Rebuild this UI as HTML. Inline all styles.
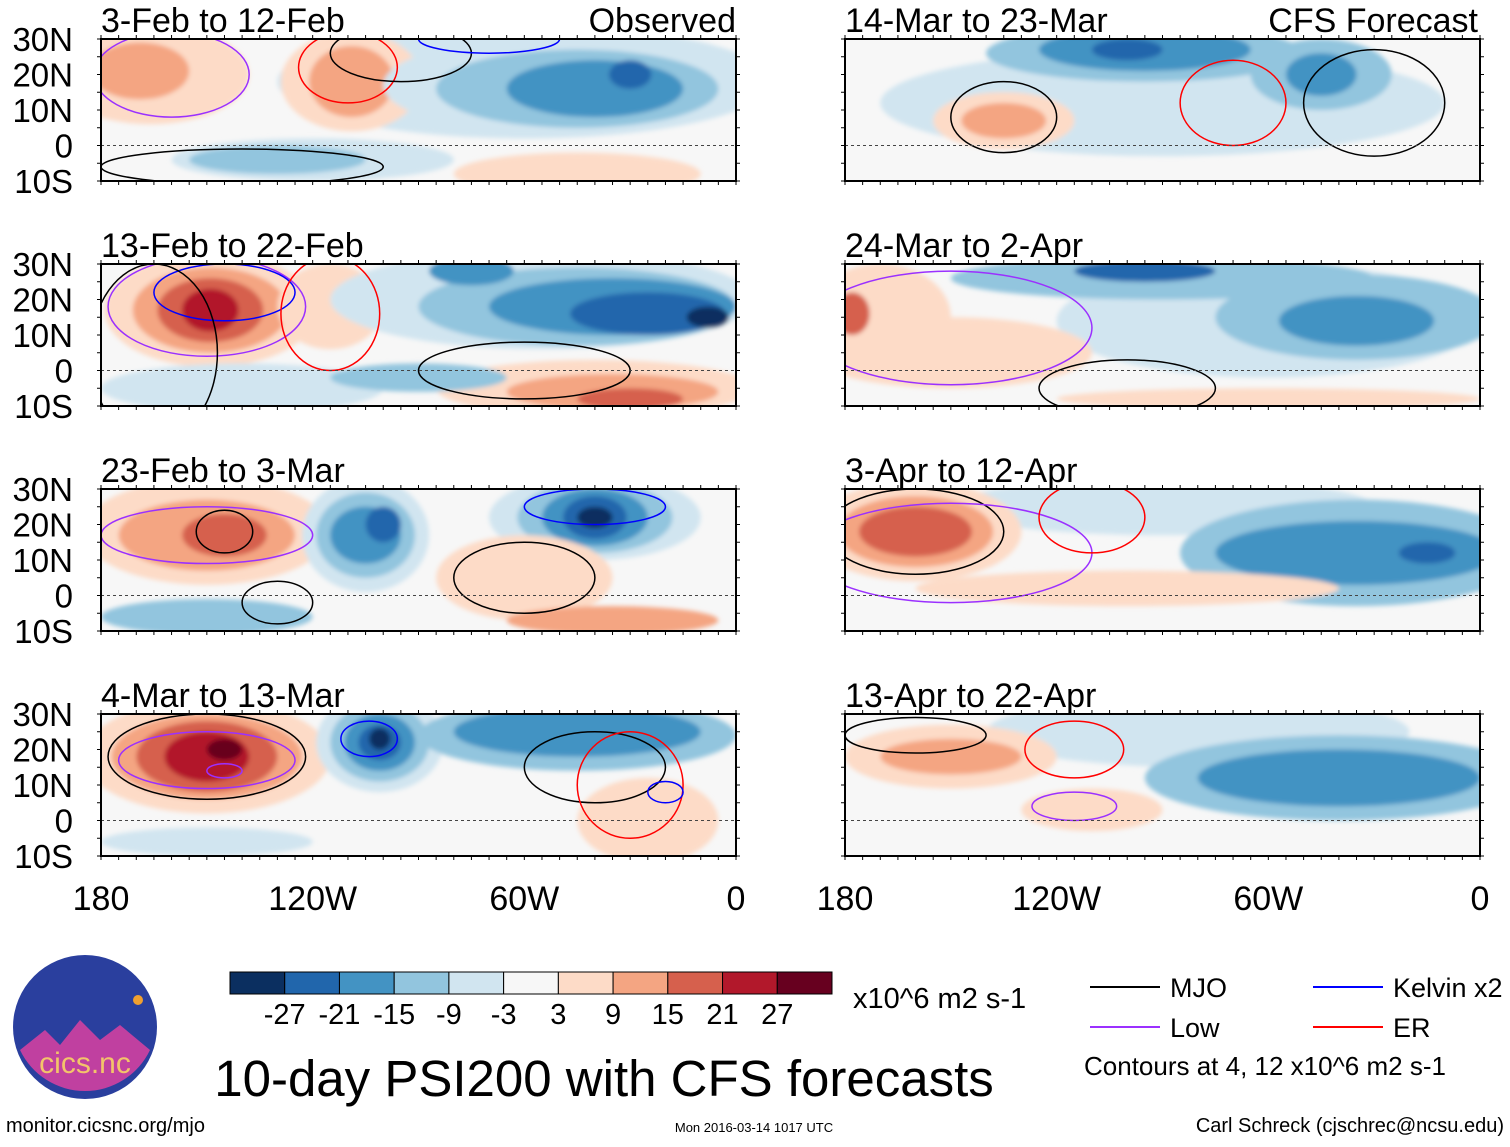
<!DOCTYPE html>
<html><head><meta charset="utf-8">
<style>
html,body{margin:0;padding:0;background:#fff;}
body{width:1510px;height:1142px;overflow:hidden;font-family:"Liberation Sans",sans-serif;}
svg text{font-family:"Liberation Sans",sans-serif;}
</style></head>
<body>
<svg id="fig" width="1510" height="1142" viewBox="0 0 1510 1142" xmlns="http://www.w3.org/2000/svg">
<defs><filter id="soft"><feGaussianBlur stdDeviation="2.5"/></filter></defs>
</svg>
<script>
const levelColors = ["#0b2f60","#2166ac","#4393c3","#92c5de","#d1e5f0","#f7f7f7","#fddbc7","#f4a582","#d6604d","#b2182b","#67001f"];
const levelLabels = ["-27","-21","-15","-9","-3","3","9","15","21","27"];
const latTicks = ["30N","20N","10N","0","10S"];
const latTickVals = [30,20,10,0,-10];
const lonTicks = ["180","120W","60W","0"];
const lonTickVals = [180,120,60,0];
const panelTitles = ["3-Feb to 12-Feb","13-Feb to 22-Feb","23-Feb to 3-Mar","4-Mar to 13-Mar","14-Mar to 23-Mar","24-Mar to 2-Apr","3-Apr to 12-Apr","13-Apr to 22-Apr"];
// anomaly blobs: [lonW, lat, rx(deg), ry(deg), level index]
const blobs0 = [[60,18,70,16,4],[166,20,28,14,6],[169,21,14,8,7],[109,18,20,14,6],[109,18,12,10,7],[50,17,50,14,4],[45,16,40,11,3],[40,16,25,8,2],[30,20,6,4,1],[120,-4,40,6,4],[130,-4,25,4,3],[45,-8,35,6,6]];
const blobs1 = [[149,17,30,16,6],[149,17,22,12,7],[149,17,15,9,8],[149,17,8,6,9],[115,18,15,12,6],[55,20,60,14,4],[45,18,45,11,3],[35,18,35,8,2],[25,16,22,6,1],[8,15,6,3,0],[75,28,12,4,2],[40,-5,45,8,6],[35,-6,30,5,7],[30,-8,15,3,8],[140,-5,40,7,4],[90,-2,25,4,3]];
const blobs2 = [[150,18,35,15,6],[150,17,25,10,7],[145,17,12,6,8],[105,17,18,16,4],[105,17,14,12,3],[105,17,10,8,2],[100,20,5,5,1],[40,22,30,12,4],[40,22,22,10,3],[40,22,15,8,2],[40,22,9,6,1],[40,22,5,3,0],[60,5,25,12,6],[150,-6,30,5,3],[35,-7,30,4,7]];
const blobs3 = [[150,18,35,16,6],[150,18,27,12,7],[150,18,20,10,8],[150,18,12,7,9],[145,20,5,3,10],[101,22,18,14,4],[101,22,14,11,3],[101,22,10,8,2],[101,22,6,5,1],[101,23,3,3,0],[45,24,45,10,3],[45,25,35,7,2],[25,0,20,12,6],[150,-6,30,4,4]];
const blobs4 = [[90,12,80,15,4],[95,26,45,8,3],[95,27,30,6,2],[100,27,10,3,1],[45,20,20,10,3],[45,20,10,6,2],[135,7,20,8,6],[135,7,12,5,7]];
const blobs5 = [[60,14,60,16,4],[90,26,60,6,3],[95,28,20,3,1],[35,15,40,12,3],[35,14,22,7,2],[150,5,40,10,6],[170,15,20,15,6],[178,16,5,6,8],[60,-8,60,3,6]];
const blobs6 = [[90,25,60,8,4],[35,12,50,15,3],[35,12,40,9,2],[15,12,8,3,1],[100,2,60,5,6],[160,18,30,14,6],[160,18,22,10,7],[160,18,16,7,8]];
const blobs7 = [[80,25,60,10,4],[40,12,55,12,3],[40,12,40,8,2],[110,3,20,6,6],[150,18,30,9,6],[150,18,20,5,7]];
const panelBlobs = [blobs0,blobs1,blobs2,blobs3,blobs4,blobs5,blobs6,blobs7];
// contours: [lonW, lat, rx, ry, type] type: 0 MJO,1 Low,2 Kelvin,3 ER
const cont0 = [[160,20,22,12,1],[110,22,14,10,3],[95,26,20,8,0],[140,-6,40,5,0],[70,30,20,4,2]];
const cont1 = [[150,18,28,14,1],[145,22,20,8,2],[115,16,14,16,3],[165,5,18,25,0],[60,0,30,8,0]];
const cont2 = [[150,17,30,8,1],[145,18,8,6,0],[130,-2,10,6,0],[60,5,20,10,0],[40,25,20,5,2]];
const cont3 = [[150,18,28,12,0],[150,17,25,8,1],[145,14,5,2,1],[104,23,8,5,2],[40,15,20,10,0],[30,10,15,15,3],[20,8,5,3,2]];
const cont4 = [[135,8,15,10,0],[70,12,15,12,3],[30,12,20,15,0]];
const cont5 = [[150,12,40,16,1],[100,-5,25,8,0]];
const cont6 = [[160,18,25,12,0],[150,12,40,14,1],[110,22,15,10,3]];
const cont7 = [[160,24,20,5,0],[115,20,14,8,3],[115,4,12,4,1]];
const panelConts = [cont0,cont1,cont2,cont3,cont4,cont5,cont6,cont7];

const NS="http://www.w3.org/2000/svg";
const svg=document.getElementById('fig');
const colX=[101,845], W=635, rowY=[39,264,489,714], H=142;
const contColors=["#000","#9b30ff","#0000ff","#ff0000"];
function mk(tag,attrs,parent){const e=document.createElementNS(NS,tag);for(const k in attrs)e.setAttribute(k,attrs[k]);(parent||svg).appendChild(e);return e;}
function xScale(px,lonW){return px+(180-lonW)/180*W;}
function yScale(py,lat){return py+(30-lat)/40*H;}

for(let p=0;p<8;p++){
  const col=p<4?0:1,row=p%4,px=colX[col],py=rowY[row];
  const g=mk('g',{});
  
  
  const cid='clip'+p;
  const cp=mk('clipPath',{id:cid},svg.querySelector('defs'));
  mk('rect',{x:px,y:py,width:W,height:H},cp);
  mk('rect',{x:px,y:py,width:W,height:H,fill:'#f7f7f7'},g);
  const fg=mk('g',{'clip-path':'url(#'+cid+')'},g);
  const bg=mk('g',{filter:'url(#soft)'},fg);
  panelBlobs[p].forEach(b=>{
    const e=mk('ellipse',{cx:xScale(px,b[0]),cy:yScale(py,b[1]),rx:b[2]/180*W,ry:b[3]/40*H,fill:levelColors[b[4]]},bg);
    
    
  });
  panelConts[p].forEach(c=>{
    const e=mk('ellipse',{cx:xScale(px,c[0]),cy:yScale(py,c[1]),rx:c[2]/180*W,ry:c[3]/40*H,fill:'none',stroke:contColors[c[4]],'stroke-width':1.5},fg);
    
    
  });
  const eq=mk('line',{x1:px,x2:px+W,y1:yScale(py,0),y2:yScale(py,0),stroke:'#444','stroke-width':1,'stroke-dasharray':'3,3'},g);
  
  
  mk('rect',{x:px,y:py,width:W,height:H,fill:'none',stroke:'#000','stroke-width':2},g);
  for(let i=0;i<=36;i++){const x=px+i*W/36;mk('line',{x1:x,x2:x,y1:py,y2:py-4,stroke:'#000'},g);mk('line',{x1:x,x2:x,y1:py+H,y2:py+H+4,stroke:'#000'},g);}
  for(let i=0;i<=8;i++){const y=py+i*H/8;mk('line',{x1:px,x2:px-4,y1:y,y2:y,stroke:'#000'},g);mk('line',{x1:px+W,x2:px+W+4,y1:y,y2:y,stroke:'#000'},g);}
  const t=mk('text',{x:px,y:py-7,'font-size':34},g);t.textContent=panelTitles[p];
  
  
  if(col===0){latTicks.forEach((l,i)=>{const tt=mk('text',{x:73,y:yScale(py,latTickVals[i])+12,'font-size':33,'text-anchor':'end'},g);tt.textContent=l;
    
    });}
}
const o=mk('text',{x:736,y:32,'font-size':34,'text-anchor':'end'});o.textContent='Observed';


const f=mk('text',{x:1478,y:32,'font-size':34,'text-anchor':'end'});f.textContent='CFS Forecast';


colX.forEach(px=>{lonTicks.forEach((l,i)=>{const tt=mk('text',{x:xScale(px,lonTickVals[i]),y:910,'font-size':34,'text-anchor':'middle'});tt.textContent=l;
  
  });});
const cbx=230,cbw=602/11;
levelColors.forEach((c,i)=>{const r=mk('rect',{x:cbx+i*cbw,y:972,width:cbw,height:22,fill:c,stroke:'#000','stroke-width':1});
  
  });
levelLabels.forEach((l,i)=>{const tt=mk('text',{x:cbx+(i+1)*cbw,y:1024,'font-size':29,'text-anchor':'middle'});tt.textContent=l;
  
  });
function txt(x,y,s,str,name,anchor){const t=mk('text',{x:x,y:y,'font-size':s,'text-anchor':anchor||'start'});t.textContent=str;return t;}
txt(853,1008,29,'x10^6 m2 s-1','colorbar-units');
txt(604,1096,51,'10-day PSI200 with CFS forecasts','main-title','middle');
txt(6,1132,20,'monitor.cicsnc.org/mjo','source-url');
txt(754,1132,13,'Mon 2016-03-14 1017 UTC','timestamp','middle');
txt(1504,1132,20,'Carl Schreck (cjschrec@ncsu.edu)','author','end');
txt(1084,1075,26,'Contours at 4, 12 x10^6 m2 s-1','contour-note');
const leg=[[1090,987,'MJO','#000'],[1313,987,'Kelvin x2','#0000ff'],[1090,1027,'Low','#9b30ff'],[1313,1027,'ER','#ff0000']];
leg.forEach(l=>{const ln=mk('line',{x1:l[0],x2:l[0]+70,y1:l[1],y2:l[1],stroke:l[3],'stroke-width':2});
  
  
  txt(l[0]+80,l[1]+10,27,l[2],'legend-entry');});
const lg=mk('g',{});


mk('circle',{cx:85,cy:1027,r:72,fill:'#2a3f9e'},lg);
mk('path',{d:'M20 1050 L45 1030 L60 1045 L80 1020 L100 1040 L120 1025 L150 1050 A72 72 0 0 1 20 1050 Z',fill:'#c040a0'},lg);
mk('circle',{cx:138,cy:1000,r:5,fill:'#f0a030'},lg);
const lt=mk('text',{x:85,y:1073,'font-size':30,'text-anchor':'middle',fill:'#f3c46a'},lg);lt.textContent='cics.nc';
</script>
</body></html>
